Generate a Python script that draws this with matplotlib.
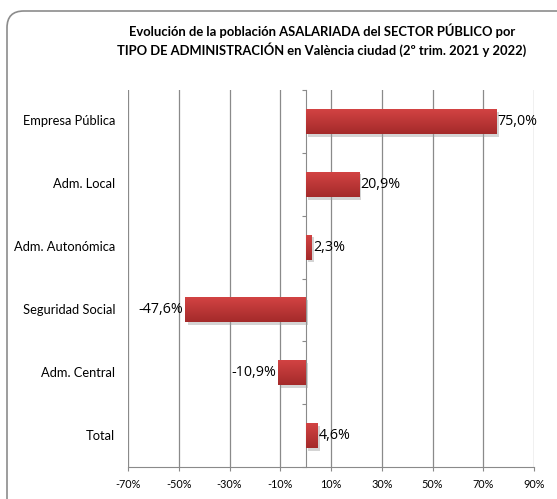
import matplotlib.pyplot as plt
import matplotlib.patheffects as pe
from matplotlib.patches import FancyBboxPatch
from matplotlib.colors import LinearSegmentedColormap
import numpy as np

categorias = ['Empresa Pública', 'Adm. Local', 'Adm. Autonómica',
              'Seguridad Social', 'Adm. Central', 'Total']
variacion = [75.0, 20.9, 2.3, -47.6, -10.9, 4.6]
etiquetas = ['75,0%', '20,9%', '2,3%', '-47,6%', '-10,9%', '4,6%']
ticks_x = [-70, -50, -30, -10, 10, 30, 50, 70, 90]

plt.rcParams['font.family'] = ['Lato', 'DejaVu Sans']

fig = plt.figure(figsize=(5.57, 4.99), dpi=100)
ax = fig.add_axes([128/557, 1 - 467/499, (534 - 128)/557, (467 - 90)/499])

# marco redondeado del gráfico
marco = FancyBboxPatch((7/557, -0.05), 1.2, 1 - 11/499 + 0.05,
                       boxstyle='round,pad=0,rounding_size=0.03',
                       transform=fig.transFigure, fc='none', ec='#8c8c8c', lw=1.2,
                       mutation_aspect=557/499)
fig.add_artist(marco)

y = np.arange(len(categorias))
barras = ax.barh(y, variacion, height=0.4, color='#c03434', zorder=3,
                 path_effects=[pe.withSimplePatchShadow(offset=(2, -2), shadow_rgbFace='#a0a0a0', alpha=0.45),
                               pe.Normal()])

# degradado en cada barra
grad = np.linspace(0, 1, 64).reshape(-1, 1)
cmap = LinearSegmentedColormap.from_list('rojo', ['#d44444', '#a42a2a'])
for b in barras:
    x0, y0, w, h = b.get_x(), b.get_y(), b.get_width(), b.get_height()
    im = ax.imshow(grad, cmap=cmap, aspect='auto', extent=[x0, x0 + w, y0 + h, y0],
                   zorder=4, interpolation='bilinear')
    im.set_clip_path(b)

for yi, v, t in zip(y, variacion, etiquetas):
    if v >= 0:
        ax.text(v + 0.6, yi, t, va='center', ha='left', fontsize=10.3, zorder=5,
                family=['Open Sans', 'DejaVu Sans'])
    else:
        ax.text(v - 0.6, yi, t, va='center', ha='right', fontsize=10.3, zorder=5,
                family=['Open Sans', 'DejaVu Sans'])

ax.set_xlim(-70, 90)
ax.set_ylim(len(categorias) - 0.5, -0.5)
ax.set_xticks(ticks_x)
ax.set_xticklabels([f'{t}%' for t in ticks_x], fontsize=7.8)
ax.tick_params(axis='x', length=3, color='#888888', pad=6)
ax.grid(axis='x', color='#8a8a8a', lw=0.9, zorder=0)

# eje vertical en el 0 con marcas entre categorías
ax.spines['left'].set_position(('data', 0))
ax.spines['left'].set_color('#8a8a8a')
ax.set_yticks(np.arange(len(categorias) + 1) - 0.5)
ax.set_yticklabels([])
ax.tick_params(axis='y', length=3, color='#8a8a8a', direction='out')
for s in ['top', 'right']:
    ax.spines[s].set_visible(False)
ax.spines['bottom'].set_color('#8a8a8a')

trans = ax.get_yaxis_transform()
for yi, c in zip(y, categorias):
    ax.text(-0.032, yi, c, transform=trans, ha='right', va='center', fontsize=9.3)

fig.text(322/557, 1 - 40/499,
         'Evolución de la población ASALARIADA del SECTOR PÚBLICO por\n'
         'TIPO DE ADMINISTRACIÓN en València ciudad (2º trim. 2021 y 2022)',
         ha='center', va='center', fontsize=9.4, fontweight='bold', linespacing=1.35)

fig.savefig('out.png', dpi=100)
